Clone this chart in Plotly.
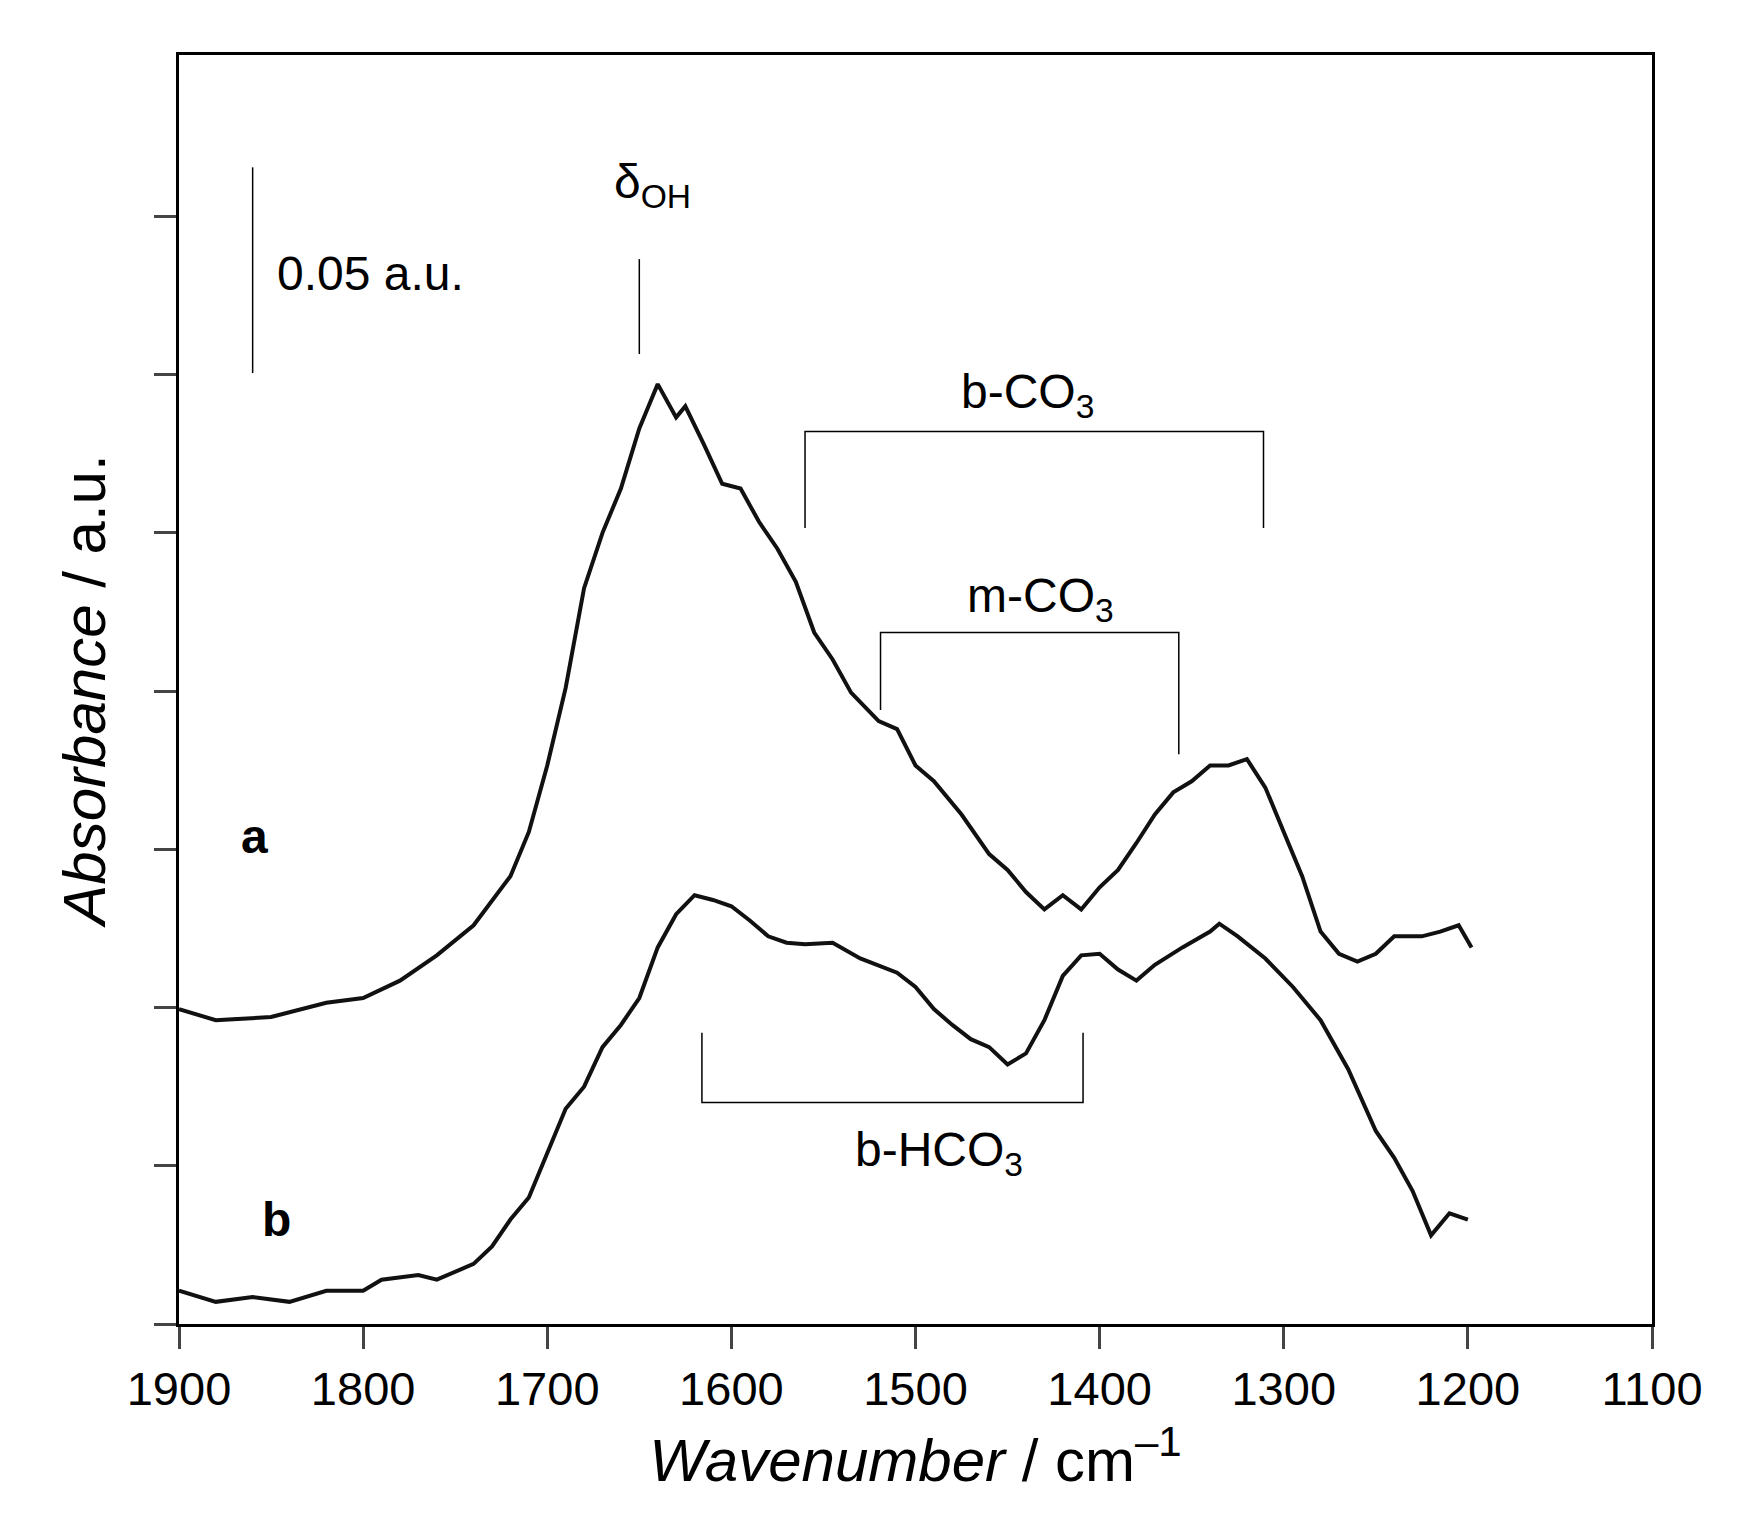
import plotly.graph_objects as go

wn_a = [1900,1880,1850,1820,1800,1780,1760,1740,1720,1710,1700,1690,1680,1670,1660,1650,1645,1640,1630,1625,1615,1605,1595,1585,1575,1565,1555,1545,1535,1520,1510,1500,1490,1475,1460,1450,1440,1430,1420,1410,1400,1390,1380,1370,1360,1350,1340,1330,1320,1310,1300,1290,1280,1270,1260,1250,1240,1225,1215,1205,1198]
abs_a = [1.99,1.92,1.94,2.03,2.06,2.17,2.33,2.52,2.83,3.11,3.53,4.02,4.65,5.0,5.28,5.66,5.8,5.94,5.73,5.8,5.56,5.31,5.28,5.07,4.9,4.69,4.37,4.2,3.99,3.81,3.76,3.53,3.43,3.22,2.97,2.87,2.73,2.62,2.71,2.62,2.76,2.87,3.04,3.22,3.36,3.43,3.53,3.53,3.57,3.39,3.11,2.83,2.48,2.34,2.29,2.34,2.45,2.45,2.48,2.52,2.38]
wn_b = [1900,1880,1860,1840,1820,1800,1790,1770,1760,1740,1730,1720,1710,1700,1690,1680,1670,1660,1650,1640,1630,1620,1610,1600,1590,1580,1570,1560,1545,1530,1510,1500,1490,1480,1470,1460,1450,1440,1430,1420,1410,1400,1390,1380,1370,1355,1340,1335,1325,1310,1295,1280,1265,1250,1240,1230,1220,1210,1200]
abs_b = [0.21,0.14,0.17,0.14,0.21,0.21,0.28,0.31,0.28,0.38,0.49,0.66,0.80,1.08,1.36,1.50,1.75,1.89,2.06,2.38,2.59,2.71,2.68,2.64,2.55,2.45,2.41,2.40,2.41,2.31,2.22,2.13,1.99,1.89,1.80,1.75,1.64,1.71,1.92,2.20,2.33,2.34,2.24,2.17,2.27,2.38,2.48,2.53,2.45,2.31,2.13,1.92,1.61,1.22,1.05,0.84,0.56,0.70,0.66]
x_ticks = [1900,1800,1700,1600,1500,1400,1300,1200,1100]
y_ticks = [0,1,2,3,4,5,6,7]

F = "Liberation Sans, Arial, sans-serif"
fig = go.Figure()
fig.add_trace(go.Scatter(x=wn_a, y=abs_a, mode="lines", line=dict(color="#111", width=4), showlegend=False))
fig.add_trace(go.Scatter(x=wn_b, y=abs_b, mode="lines", line=dict(color="#111", width=4), showlegend=False))

def seg(pts):
    fig.add_trace(go.Scatter(x=[p[0] for p in pts], y=[p[1] for p in pts], mode="lines",
                             line=dict(color="black", width=1.5), showlegend=False, hoverinfo="skip"))
seg([(1860,7.31),(1860,6.01)])
seg([(1650,6.73),(1650,6.13)])
seg([(1560,5.03),(1560,5.64),(1311,5.64),(1311,5.03)])
seg([(1519,3.88),(1519,4.37),(1357,4.37),(1357,3.6)])
seg([(1616,1.84),(1616,1.40),(1409,1.40),(1409,1.84)])

def txt(x,y,t,size=48,anchor="center"):
    fig.add_annotation(x=x,y=y,text=t,showarrow=False,xanchor=anchor,font=dict(family=F,size=size,color="black"))
txt(1848,6.64,"0.05 a.u.",anchor="left")
txt(1643,7.2,"δ<sub>OH</sub>")
txt(1439,5.87,"b-CO<sub>3</sub>")
txt(1432,4.58,"m-CO<sub>3</sub>")
txt(1487,1.08,"b-HCO<sub>3</sub>")
txt(1859,3.08,"<b>a</b>")
txt(1847,0.66,"<b>b</b>")

fig.update_layout(width=1737,height=1536,plot_bgcolor="white",paper_bgcolor="white",
    margin=dict(l=171,r=93,t=47,b=220),font=dict(family=F,color="black"))
fig.update_xaxes(range=[1900,1100],tickvals=x_ticks,ticks="outside",ticklen=22,tickwidth=3,
    showline=True,linewidth=3,linecolor="black",mirror=True,showgrid=False,zeroline=False,
    tickfont=dict(size=47),title=dict(text="<i>Wavenumber</i> / cm<sup>–1</sup>",font=dict(size=60),standoff=25))
fig.update_yaxes(range=[0,8.02],tickvals=y_ticks,ticks="outside",ticklen=22,tickwidth=3,showticklabels=False,
    showline=True,linewidth=3,linecolor="black",mirror=True,showgrid=False,zeroline=False,
    title=dict(text="<i>Absorbance</i> / a.u.",font=dict(size=60),standoff=30))
fig.write_html("out.html")
